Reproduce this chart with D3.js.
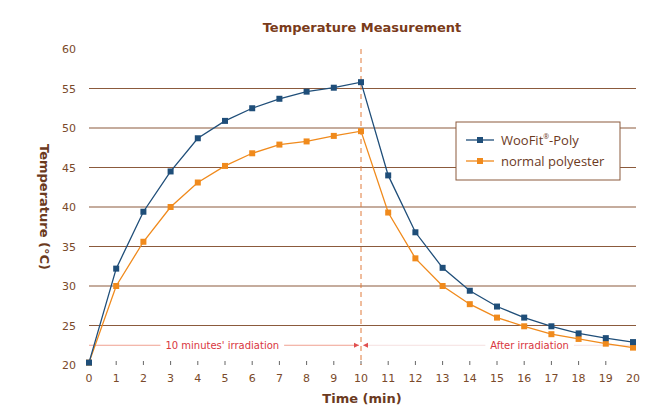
<!DOCTYPE html>
<html>
<head>
<script src="https://cdn.jsdelivr.net/npm/d3@7"></script>
<style>
body { margin: 0; background: #fff; font-family: "Open Sans", "DejaVu Sans", sans-serif; }
</style>
</head>
<body>
<svg id="chart" width="671" height="418"></svg>
<script>
var minutes = d3.range(0, 21)
var woofit = [20.3, 32.2, 39.4, 44.5, 48.7, 50.9, 52.5, 53.7, 54.6, 55.1, 55.8, 44.0, 36.8, 32.3, 29.4, 27.4, 26.0, 24.9, 24.0, 23.4, 22.9]
var polyester = [20.3, 30.0, 35.6, 40.0, 43.1, 45.2, 46.8, 47.9, 48.3, 49.0, 49.6, 39.3, 33.5, 30.0, 27.7, 26.0, 24.9, 23.9, 23.3, 22.7, 22.2]
var yTicks = [20, 25, 30, 35, 40, 45, 50, 55, 60]

var brown = '#7a4a2a', lineBrown = '#8b5a3c'
var svg = d3.select('#chart')
var x = d3.scaleLinear().domain([0, 20]).range([89, 633])
var y = d3.scaleLinear().domain([20, 60]).range([365, 49])

svg.append('text').attr('x', 362).attr('y', 32).attr('text-anchor', 'middle')
    .attr('font-size', 13).attr('font-weight', 'bold').attr('fill', '#7a3b1a')
    .attr('font-family', 'DejaVu Sans').text('Temperature Measurement')

// grid
svg.selectAll('.grid').data(yTicks.filter(d => d > 20 && d < 60)).enter().append('line')
    .attr('x1', 89).attr('x2', 636).attr('y1', d => y(d)).attr('y2', d => y(d))
    .attr('stroke', lineBrown).attr('stroke-width', 1.1)

svg.selectAll('.yl').data(yTicks).enter().append('text')
    .attr('x', 76).attr('y', d => y(d) + 4).attr('text-anchor', 'end')
    .attr('font-size', 11).attr('font-family', 'DejaVu Sans').attr('fill', brown).text(d => d)

svg.selectAll('.xt').data(minutes.filter(d => d > 0 && d < 20)).enter().append('line')
    .attr('x1', d => x(d)).attr('x2', d => x(d)).attr('y1', 361).attr('y2', 365)
    .attr('stroke', '#666')
svg.selectAll('.xl').data(minutes).enter().append('text')
    .attr('x', d => x(d)).attr('y', 382).attr('text-anchor', 'middle')
    .attr('font-size', 11).attr('font-family', 'DejaVu Sans').attr('fill', brown).text(d => d)

svg.append('text').attr('x', 362).attr('y', 403).attr('text-anchor', 'middle')
    .attr('font-size', 13).attr('font-weight', 'bold').attr('font-family', 'DejaVu Sans').attr('fill', '#6b3a1e').text('Time (min)')
svg.append('text').attr('transform', 'translate(40,' + y(40) + ') rotate(90)').attr('text-anchor', 'middle')
    .attr('font-size', 13).attr('font-weight', 'bold').attr('font-family', 'DejaVu Sans').attr('fill', '#6b3a1e').text('Temperature (°C)')

// irradiation marker
svg.append('line').attr('x1', x(10)).attr('x2', x(10)).attr('y1', 49).attr('y2', 365)
    .attr('stroke', '#e07a3a').attr('stroke-dasharray', '5,4')
var ay = y(22.5)
svg.append('line').attr('x1', x(0)).attr('x2', x(10) - 2).attr('y1', ay).attr('y2', ay).attr('stroke', '#f0a090')
svg.append('path').attr('d', `M${x(10) - 2},${ay} l-5,-2.5 v5 z`).attr('fill', '#e05050')
svg.append('line').attr('x1', x(10) + 2).attr('x2', x(20)).attr('y1', ay).attr('y2', ay).attr('stroke', '#f5e0e0')
svg.append('path').attr('d', `M${x(10) + 2},${ay} l5,-2.5 v5 z`).attr('fill', '#e05050')
function label(t, cx) {
    var g = svg.append('g')
    var tx = g.append('text').attr('x', cx).attr('y', ay + 4).attr('text-anchor', 'middle')
        .attr('font-size', 10).attr('font-family', 'DejaVu Sans').attr('fill', '#d9363e').text(t)
    var w = tx.node().getComputedTextLength()
    g.insert('rect', 'text').attr('x', cx - w / 2 - 5).attr('y', ay - 6).attr('width', w + 10).attr('height', 12).attr('fill', '#fff')
}
label("10 minutes' irradiation", x(4.9))
label('After irradiation', x(16.2))

var line = d3.line().x((d, i) => x(minutes[i])).y(d => y(d))
function series(vals, color, strokeW) {
    svg.append('path').attr('d', line(vals)).attr('fill', 'none').attr('stroke', color).attr('stroke-width', strokeW)
    svg.selectAll(null).data(vals).enter().append('rect')
        .attr('x', (d, i) => x(minutes[i]) - 3).attr('y', d => y(d) - 3)
        .attr('width', 6).attr('height', 6).attr('fill', color)
}
series(polyester, '#f08a1c', 1.3)
series(woofit, '#1f4e79', 1.3)

// legend
var lg = svg.append('g').attr('transform', 'translate(456,122)')
lg.append('rect').attr('width', 164).attr('height', 58).attr('fill', '#fff').attr('stroke', lineBrown)
var items = [['WooFit', '#1f4e79'], ['normal polyester', '#f08a1c']]
items.forEach((it, i) => {
    var yy = 18 + i * 21
    lg.append('line').attr('x1', 10).attr('x2', 38).attr('y1', yy).attr('y2', yy).attr('stroke', it[1]).attr('stroke-width', 1.3)
    lg.append('rect').attr('x', 21).attr('y', yy - 3).attr('width', 6).attr('height', 6).attr('fill', it[1])
    var t = lg.append('text').attr('x', 45).attr('y', yy + 5).attr('font-size', 13).attr('fill', '#6b3a1e')
    if (i === 0) {
        t.append('tspan').text('WooFit')
        t.append('tspan').attr('font-size', 7).attr('dy', -6).text('®')
        t.append('tspan').attr('dy', 6).text('-Poly')
    } else t.text(it[0])
})
</script>
</body>
</html>
